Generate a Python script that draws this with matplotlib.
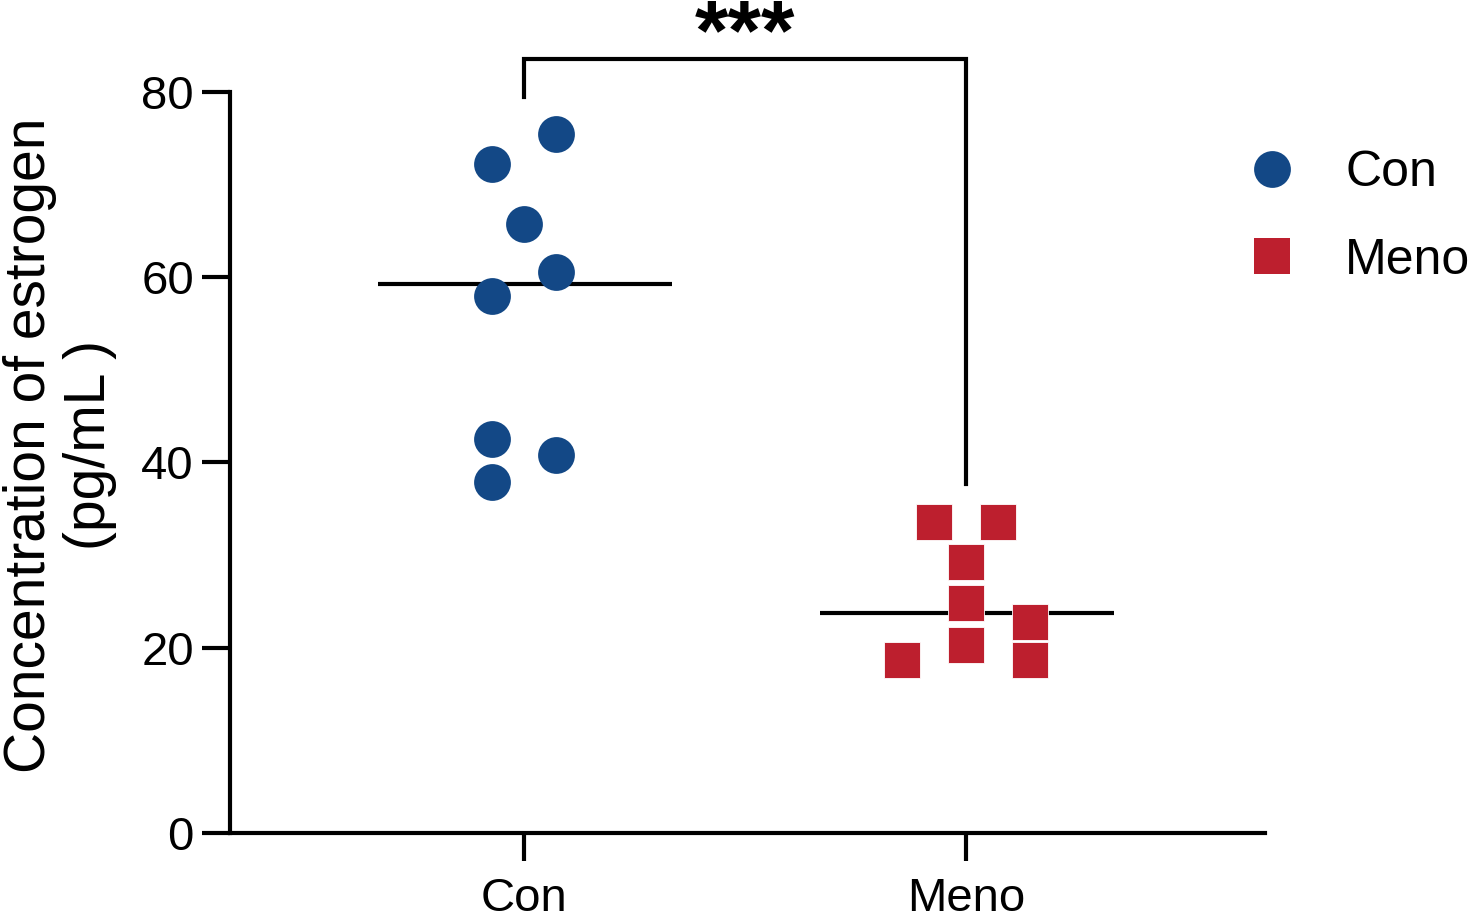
import matplotlib
matplotlib.use("Agg")
import matplotlib.pyplot as plt
from matplotlib.lines import Line2D
import numpy as np

plt.rcParams['font.family'] = ['Liberation Sans', 'DejaVu Sans']

# ---- data ----
groups = ["Con", "Meno"]
con_values = [75.5, 72.2, 65.8, 60.6, 58.0, 42.5, 40.8, 37.9]
meno_values = [33.6, 33.6, 29.3, 24.8, 22.8, 20.3, 18.7, 18.7]
# horizontal scatter offsets (dot-plot layout)
con_offsets = [0.0725, -0.0725, 0.0, 0.0725, -0.0725, -0.0725, 0.0725, -0.0725]
meno_offsets = [-0.0725, 0.0725, 0.0, 0.0, 0.145, 0.0, 0.145, -0.145]
yticks = [0, 20, 40, 60, 80]
signif_label = "***"
ylabel = "Concentration of estrogen\n(pg/mL )"

blue = "#134886"
red = "#BD1F2E"

fig = plt.figure(figsize=(14.76, 9.14), dpi=100)
ax = fig.add_axes([230/1476, 1-833/914, (1265-230)/1476, (833-92)/914])

xpos = np.arange(len(groups))
ax.plot(xpos[0] + np.array(con_offsets), con_values, 'o', ms=26.5,
        color=blue, mec=blue, mew=0, zorder=3, clip_on=False)
ax.plot(xpos[1] + np.array(meno_offsets), meno_values, 's', ms=26.5,
        color=red, mec='white', mew=0.6, zorder=3, clip_on=False)

# median lines
for x, vals in zip(xpos, [con_values, meno_values]):
    m = np.median(vals)
    ax.plot([x - 0.33, x + 0.334], [m, m], color='black', lw=3, zorder=2,
            solid_capstyle='butt')

ax.set_xlim(-0.665, 1.676)
ax.set_ylim(0, 80)
ax.set_xticks(xpos)
ax.set_xticklabels(groups)
ax.set_yticks(yticks)

for s in ['top', 'right']:
    ax.spines[s].set_visible(False)
for s in ['left', 'bottom']:
    ax.spines[s].set_linewidth(3)
ax.tick_params(axis='both', width=3, length=20, labelsize=34, color='black')
ax.tick_params(axis='y', pad=6)
ax.tick_params(axis='x', pad=12)

# significance bracket
top = 83.6
ax.plot([xpos[0], xpos[0], xpos[1], xpos[1]], [79.5, top, top, 37.7],
        color='black', lw=3, clip_on=False, solid_joinstyle='miter')
ax.text(0.5, 83.5, signif_label, ha='center', va='baseline', fontsize=62,
        fontweight='bold', fontfamily=['Liberation Sans'])

fig.text(60/1476, 1-445/914, ylabel, rotation=90, ha='center', va='center',
         fontsize=41, multialignment='center', linespacing=1.12)

handles = [Line2D([], [], marker='o', ls='', color=blue, ms=26.5, mew=0),
           Line2D([], [], marker='s', ls='', color=red, ms=26.5, mew=0)]
leg = fig.legend(handles, groups, loc='upper left',
                 bbox_to_anchor=(1247/1476, 1-150/914), frameon=False,
                 fontsize=36, handlelength=1.0, handletextpad=0.96,
                 labelspacing=0.83, borderaxespad=0, borderpad=0)

fig.savefig("out.png", dpi=100)
